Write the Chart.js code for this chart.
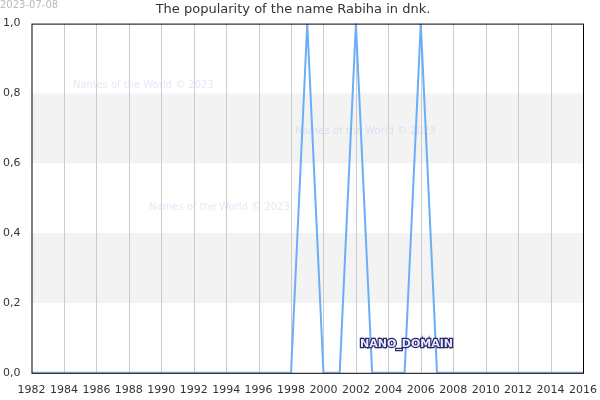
<!DOCTYPE html>
<html>
<head>
<meta charset="UTF-8" />
<style>
  body { margin: 0; background: #fff; }
</style>
</head>
<body>
<canvas id="chart" width="600" height="400"></canvas>
<script src="https://cdn.jsdelivr.net/npm/chart.js"></script>
<script>
  const years = [];
  for (let y = 1982; y <= 2016; y++) years.push(y);
  const values = [0,0,0,0,0,0,0,0,0,0,0,0,0,0,0,0,0,1,0,0,1,0,0,0,1,0,0,0,0,0,0,0,0,0,0];
  const bands = [[0.2, 0.4], [0.6, 0.8]];

  const decor = {
    id: 'decor',
    beforeDatasetsDraw(chart) {
      const { ctx, chartArea: a, scales: { x, y } } = chart;
      ctx.save();
      ctx.fillStyle = '#f3f3f3';
      bands.forEach(b => ctx.fillRect(a.left, y.getPixelForValue(b[1]), a.right - a.left, y.getPixelForValue(b[0]) - y.getPixelForValue(b[1])));
      ctx.strokeStyle = '#cccccc';
      ctx.lineWidth = 1;
      for (let yr = 1984; yr < 2016; yr += 2) {
        const px = Math.round(x.getPixelForValue(yr)) + 0.5;
        ctx.beginPath(); ctx.moveTo(px, a.top); ctx.lineTo(px, a.bottom); ctx.stroke();
      }
      ctx.font = '10px "DejaVu Sans"';
      ctx.fillStyle = 'rgba(200,200,240,0.45)';
      ctx.fillText('Names of the World © 2023', 73, 88);
      ctx.fillText('Names of the World © 2023', 295, 134);
      ctx.fillText('Names of the World © 2023', 149, 210);
      ctx.restore();
    },
    afterDraw(chart) {
      const { ctx, chartArea: a } = chart;
      ctx.save();
      ctx.strokeStyle = '#000';
      ctx.lineWidth = 1;
      ctx.strokeRect(a.left + 0.5, a.top + 0.5, a.right - a.left, a.bottom - a.top);
      ctx.font = 'bold 11px "DejaVu Sans"';
      ctx.lineWidth = 2.5;
      ctx.strokeStyle = '#2a2a6a';
      ctx.strokeText('NANO_DOMAIN', 360, 347);
      ctx.fillStyle = '#e8e8ff';
      ctx.fillText('NANO_DOMAIN', 360, 347);
      ctx.font = '10px "DejaVu Sans"';
      ctx.fillStyle = '#bbbbbb';
      ctx.fillText('2023-07-08', 0, 8);
      ctx.restore();
    }
  };

  new Chart(document.getElementById('chart'), {
    type: 'line',
    data: {
      labels: years,
      datasets: [{ data: values, borderColor: '#6aaef5', borderWidth: 2, pointRadius: 0, tension: 0 }]
    },
    options: {
      responsive: false, animation: false, devicePixelRatio: 1,
      layout: { padding: { left: 0, right: 14, top: 0, bottom: 0 } },
      plugins: {
        legend: { display: false },
        tooltip: { enabled: false },
        title: { display: true, text: 'The popularity of the name Rabiha in dnk.', color: '#333', font: { family: 'DejaVu Sans', size: 13, weight: 'normal' }, padding: { top: 2, bottom: 6 } }
      },
      scales: {
        x: {
          type: 'linear', min: 1982, max: 2016,
          grid: { display: false },
          border: { display: false },
          ticks: { stepSize: 2, color: '#333', font: { family: 'DejaVu Sans', size: 11 }, maxRotation: 0, callback: v => v }
        },
        y: {
          min: 0, max: 1,
          grid: { display: false },
          border: { display: false },
          ticks: { stepSize: 0.2, color: '#333', font: { family: 'DejaVu Sans', size: 11 }, callback: v => v.toFixed(1).replace('.', ',') }
        }
      }
    },
    plugins: [decor]
  });
</script>
</body>
</html>
